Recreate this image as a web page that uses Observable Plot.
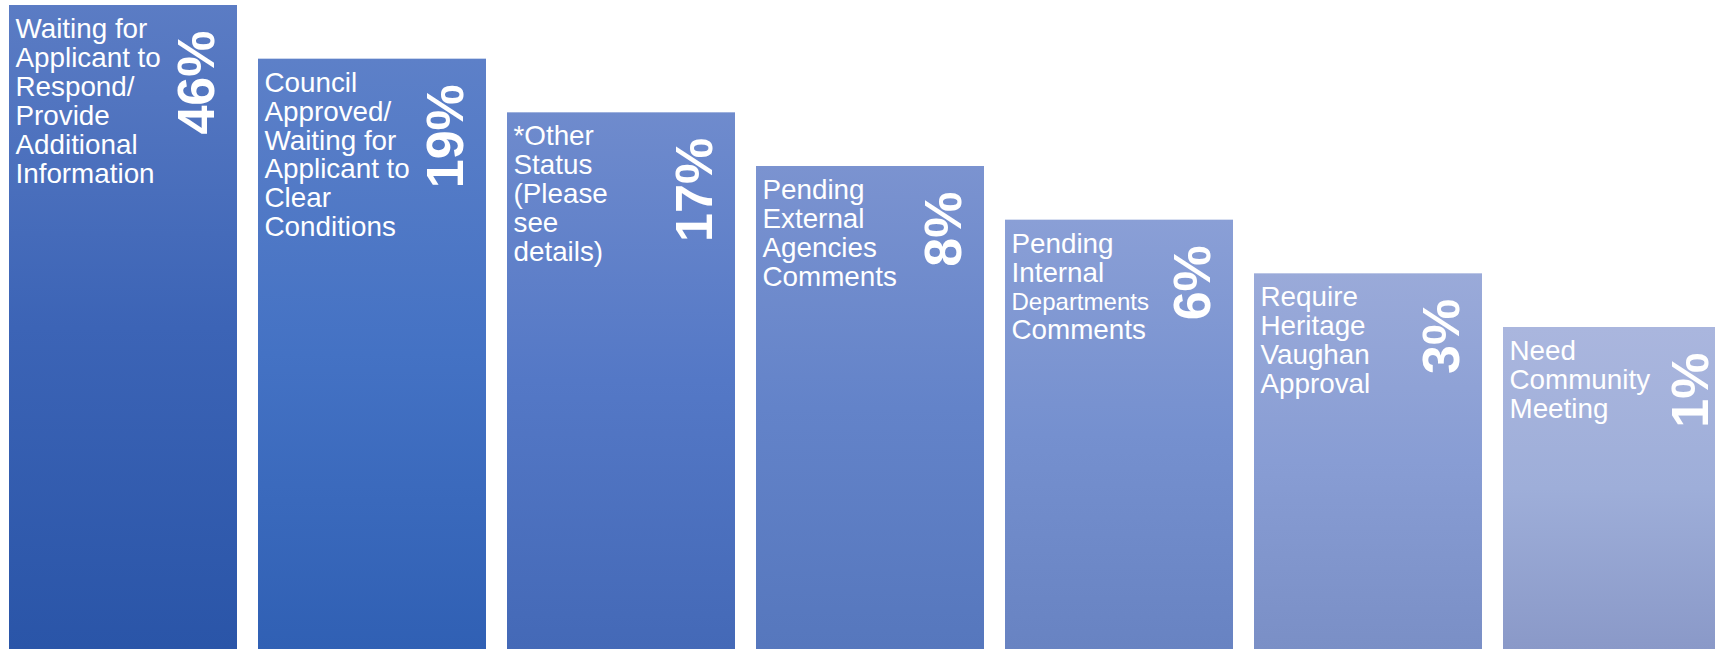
<!DOCTYPE html>
<html>
<head>
<meta charset="utf-8">
<script src="https://cdn.jsdelivr.net/npm/d3@7"></script>
<script src="https://cdn.jsdelivr.net/npm/@observablehq/plot@0.6"></script>
<style>
  html, body { margin: 0; padding: 0; background: #ffffff; overflow: hidden; }
  #chart svg { display: block; }
</style>
</head>
<body>
<div id="chart"></div>
<script>
// ---- Data ----
const categories = [
  "Waiting for Applicant to Respond/ Provide Additional Information",
  "Council Approved/ Waiting for Applicant to Clear Conditions",
  "*Other Status (Please see details)",
  "Pending External Agencies Comments",
  "Pending Internal Departments Comments",
  "Require Heritage Vaughan Approval",
  "Need Community Meeting"
];
const labelLines = [
  "Waiting for\nApplicant to\nRespond/\nProvide\nAdditional\nInformation",
  "Council\nApproved/\nWaiting for\nApplicant to\nClear\nConditions",
  "*Other\nStatus\n(Please\nsee\ndetails)",
  "Pending\nExternal\nAgencies\nComments",
  "Pending\nInternal\nDepartments\nComments",
  "Require\nHeritage\nVaughan\nApproval",
  "Need\nCommunity\nMeeting"
];
const shares = [46, 19, 17, 8, 6, 3, 1];

// gradient palette (top / middle / bottom) per bar
const topColors    = ["#5b7cc4", "#5d80c8", "#6f8bcd", "#7b93d0", "#8a9fd6", "#9aaad9", "#aab6de"];
const midColors    = ["#3c64b6", "#4472c4", "#5478c6", "#6383c9", "#7590cf", "#889dd4", "#9eaed9"];
const bottomColors = ["#2a55a8", "#3060b4", "#4469b7", "#5677bd", "#6883c2", "#7a8fc6", "#8a99c8"];

// ---- Build table ----
const n = categories.length;
const rows = categories.map((cat, i) => ({
  cat,
  label: labelLines[i],
  share: shares[i],
  step: n - i,              // staircase rank (bars descend left to right)
  fill: `url(#grad${i})`
}));

const font = "'Liberation Sans', Arial, Helvetica, sans-serif";

const svg = Plot.plot({
  width: 1715,
  height: 649,
  marginTop: 5,
  marginBottom: 0,
  marginLeft: 0,
  marginRight: 0,
  style: { fontFamily: font, background: "#ffffff" },
  x: { domain: categories, range: [8.5, 1731.5], paddingInner: 0.085, paddingOuter: 0, axis: null },
  y: { domain: [-5, n], axis: null },
  color: { type: "identity" },
  marks: [
    Plot.barY(rows, { x: "cat", y1: () => -5, y2: "step", fill: "fill" }),
    Plot.text(rows, {
      x: "cat", y: "step", text: "label",
      textAnchor: "start", lineAnchor: "top",
      dx: -108, dy: 12,
      fill: "#ffffff", fontSize: 27.8, lineHeight: 1.04, fontFamily: font
    }),
    Plot.text(rows, {
      x: "cat", y: "step", text: d => `${d.share}%`,
      rotate: -90, textAnchor: "end", lineAnchor: "bottom",
      dx: 90, dy: 25,
      fill: "#ffffff", fontSize: 52, fontWeight: "bold", fontFamily: font
    })
  ]
});

// gradient definitions
const defs = d3.select(svg).insert("defs", ":first-child");
topColors.forEach((c, i) => {
  const g = defs.append("linearGradient")
    .attr("id", `grad${i}`)
    .attr("x1", 0).attr("y1", 0).attr("x2", 0).attr("y2", 1);
  g.append("stop").attr("offset", "0%").attr("stop-color", topColors[i]);
  g.append("stop").attr("offset", "50%").attr("stop-color", midColors[i]);
  g.append("stop").attr("offset", "100%").attr("stop-color", bottomColors[i]);
});

// the reference sets "Departments" in a smaller size
d3.select(svg).selectAll("tspan")
  .filter(function () { return this.textContent === "Departments"; })
  .attr("font-size", 24)
  .attr("dy", "1.2em");

document.getElementById("chart").appendChild(svg);
</script>
</body>
</html>
